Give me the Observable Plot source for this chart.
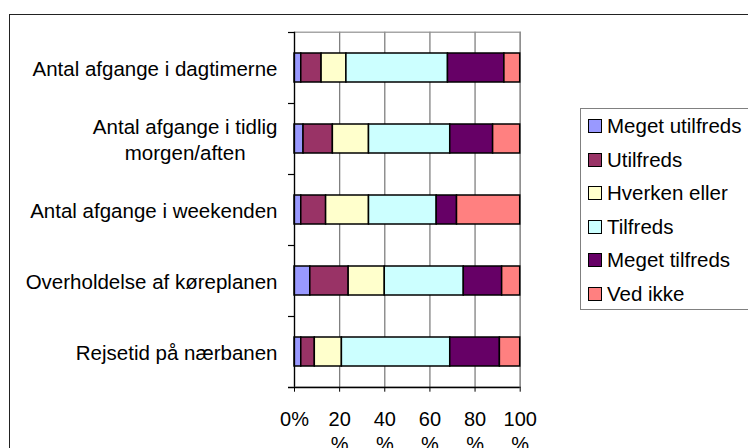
<!DOCTYPE html>
<html>
<head>
<meta charset="utf-8">
<script src="https://cdn.jsdelivr.net/npm/d3@7"></script>
<script src="https://cdn.jsdelivr.net/npm/@observablehq/plot@0.6"></script>
<style>
  html, body { margin: 0; padding: 0; background: #fff; overflow: hidden; }
  #wrap { position: relative; width: 748px; height: 448px; overflow: hidden; font-family: 'Liberation Sans', Arial, sans-serif; }
  #outer { position: absolute; left: 9px; top: 14px; width: 800px; height: 500px; border: 1.5px solid #222; box-sizing: border-box; pointer-events: none; z-index: 5; }
  #chart { position: absolute; left: 0; top: 0; }
  #chart svg { background: none !important; }
  #legend { position: absolute; left: 580px; top: 108px; width: 200px; height: 202px; border: 1.5px solid #808080; box-sizing: border-box; background: #fff; }
  .item { position: absolute; left: 7px; height: 20px; display: flex; align-items: center; font-size: 20.5px; color: #000; white-space: nowrap; }
  .sw { width: 12px; height: 12px; border: 1px solid #000; margin-right: 5px; flex: none; }
</style>
</head>
<body>
<div id="wrap">
  <div id="chart"></div>
  <div id="legend"></div>
  <div id="outer"></div>
</div>
<script>
// ---- data ----
const categories = [
  "Antal afgange i dagtimerne",
  "Antal afgange i tidlig morgen/aften",
  "Antal afgange i weekenden",
  "Overholdelse af køreplanen",
  "Rejsetid på nærbanen"
];
const categoryLabels = [
  "Antal afgange i dagtimerne",
  "Antal afgange i tidlig\nmorgen/aften",
  "Antal afgange i weekenden",
  "Overholdelse af køreplanen",
  "Rejsetid på nærbanen"
];
const answers = ["Meget utilfreds", "Utilfreds", "Hverken eller", "Tilfreds", "Meget tilfreds", "Ved ikke"];
const colors = ["#9999FF", "#993366", "#FFFFCC", "#CCFFFF", "#660066", "#FF8080"];
const megetUtilfreds = [3, 4, 3, 7, 3];
const utilfreds      = [9, 13, 11, 17, 6];
const hverkenEller   = [11, 16, 19, 16, 12];
const tilfreds       = [45, 36, 30, 35, 48];
const megetTilfreds  = [25, 19, 9, 17, 22];
const vedIkke        = [7, 12, 28, 8, 9];
const xTicks = [0, 20, 40, 60, 80, 100];
const xTickLabels = ["0%", "20\n%", "40\n%", "60\n%", "80\n%", "100\n%"];

const series = [megetUtilfreds, utilfreds, hverkenEller, tilfreds, megetTilfreds, vedIkke];
const data = [];
answers.forEach((a, j) => categories.forEach((c, i) => data.push({question: c, answer: a, value: series[j][i]})));

// ---- layout ----
const W = 748, H = 448, mt = 31.7, mb = 61.3, ml = 294, mr = 228.3;
const step = (H - mt - mb) / categories.length;

const svg = Plot.plot({
  width: W, height: H,
  marginLeft: ml, marginRight: mr, marginTop: mt, marginBottom: mb,
  style: {fontFamily: "'Liberation Sans', Arial, sans-serif", fontSize: "20px", color: "#000", background: "none", overflow: "visible"},
  x: {domain: [0, 100], label: null},
  y: {domain: categories, paddingInner: 0.59, paddingOuter: 0.295, label: null},
  color: {domain: answers, range: colors},
  marks: [
    Plot.gridX(xTicks.slice(1), {stroke: "#808080", strokeOpacity: 1, strokeWidth: 1.3}),
    Plot.frame({stroke: "#909090", strokeWidth: 1.2}),
    Plot.barX(data, {x: "value", y: "question", fill: "answer", stroke: "#000", strokeWidth: 1.5}),
    Plot.ruleX([0], {stroke: "#000", strokeWidth: 1.3}),
    Plot.ruleY(categories, {y: d => d, x1: 0, x2: 0, insetLeft: -6, dy: -step / 2, stroke: "#000", strokeWidth: 1.2}),
    Plot.ruleY(categories.slice(-1), {y: d => d, x1: 0, x2: 100, insetLeft: -6, dy: step / 2, stroke: "#000", strokeWidth: 1.3}),
    Plot.axisX({ticks: xTicks, tickSize: 5, tickPadding: 16, stroke: "#000", label: null,
      tickFormat: d => xTickLabels[xTicks.indexOf(d)], lineHeight: 1.25, fontSize: 20}),
    Plot.axisY({tickSize: 0, tickPadding: 17, label: null,
      tickFormat: d => categoryLabels[categories.indexOf(d)], lineHeight: 1.25, fontSize: 20.5})
  ]
});
document.getElementById("chart").appendChild(svg);

// center the lines of wrapped category labels within their right-aligned block
svg.querySelectorAll('g[aria-label="y-axis tick label"] text').forEach(t => {
  const spans = t.querySelectorAll("tspan");
  if (spans.length > 1) {
    let maxW = 0;
    spans.forEach(s => { maxW = Math.max(maxW, s.getComputedTextLength()); });
    spans.forEach(s => { s.setAttribute("x", -maxW / 2); s.setAttribute("text-anchor", "middle"); });
  }
});

// legend
const legend = document.getElementById("legend");
answers.forEach((a, i) => {
  const it = document.createElement("div");
  it.className = "item";
  it.style.top = (7 + i * 33.5) + "px";
  const sw = document.createElement("div");
  sw.className = "sw";
  sw.style.background = colors[i];
  const tx = document.createElement("span");
  tx.textContent = a;
  it.appendChild(sw); it.appendChild(tx);
  legend.appendChild(it);
});
</script>
</body>
</html>
